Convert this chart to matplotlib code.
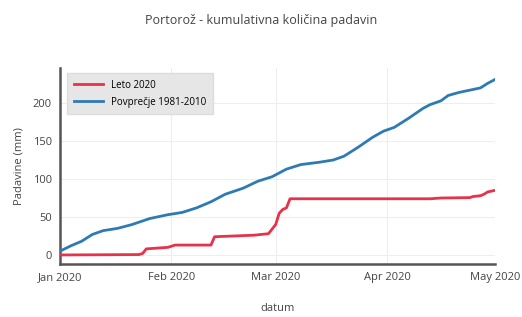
import numpy as np
import pandas as pd
import matplotlib
matplotlib.use('Agg')
import matplotlib.pyplot as plt
import matplotlib.dates as mdates

plt.rcParams['font.family'] = ['Open Sans', 'DejaVu Sans']

# leto 2020 - kumulativna kolicina (mm)
red_dates = ['2020-01-01', '2020-01-23', '2020-01-24', '2020-01-25', '2020-01-31',
             '2020-02-02', '2020-02-12', '2020-02-13', '2020-02-24', '2020-02-28',
             '2020-03-01', '2020-03-02', '2020-03-03', '2020-03-04', '2020-03-05',
             '2020-04-13', '2020-04-16', '2020-04-24', '2020-04-25', '2020-04-27',
             '2020-04-28', '2020-04-29', '2020-05-01']
red_vals = [0, 0.5, 2, 8, 10,
            13, 13, 24, 26, 28,
            40, 55, 60, 62, 74,
            74, 75, 75.5, 77, 78,
            80, 83, 85]

# povprecje 1981-2010
blue_days = [0, 3, 6, 9, 12, 16, 20, 25, 30, 34, 38, 42, 46, 51, 55, 59, 63, 67,
             72, 76, 79, 83, 87, 90, 93, 97, 101, 103, 106, 108, 111, 115, 117, 119, 121]
blue_vals = [5, 12, 18, 27, 32, 35, 40, 48, 53, 56, 62, 70, 80, 88, 97, 103, 113, 119,
             122, 125, 130, 142, 155, 163, 168, 180, 193, 198, 203, 210, 214, 218, 220, 226, 231]

red_x = pd.to_datetime(red_dates)
blue_x = pd.Timestamp('2020-01-01') + pd.to_timedelta(blue_days, unit='D')

fig = plt.figure(figsize=(5.22, 3.17), dpi=100)
ax = fig.add_axes([0.115, 0.167, 0.833, 0.618])

ax.plot(red_x, red_vals, color='#e8324b', lw=2, label='Leto 2020', zorder=3)
ax.plot(blue_x, blue_vals, color='#2e7bb4', lw=2, label='Povprečje 1981-2010', zorder=3)

ax.set_xlim(pd.Timestamp('2020-01-01'), pd.Timestamp('2020-05-01'))
ax.set_ylim(-12, 246)
ax.set_yticks([0, 50, 100, 150, 200])
ax.xaxis.set_major_locator(mdates.MonthLocator())
ax.xaxis.set_major_formatter(mdates.DateFormatter('%b %Y'))

ax.grid(True, color='#eeeeee', lw=0.8)
ax.set_axisbelow(True)
for s in ['top', 'right']:
    ax.spines[s].set_visible(False)
for s in ['left', 'bottom']:
    ax.spines[s].set_color('#555555')
    ax.spines[s].set_linewidth(1.8)
ax.tick_params(length=0, labelsize=8, colors='#444444', pad=6)

ax.set_xlabel('datum', fontsize=8, color='#444444', labelpad=14)
ax.set_ylabel('Padavine (mm)', fontsize=8, color='#444444', labelpad=6)
fig.suptitle('Portorož - kumulativna količina padavin', fontsize=9, color='#444444', y=0.955)

leg = ax.legend(loc='upper left', fontsize=7, frameon=True, fancybox=False,
                bbox_to_anchor=(0.005, 1.0), handlelength=3, borderpad=0.7,
                labelspacing=0.6)
leg.get_frame().set_facecolor('#e6e6e6')
leg.get_frame().set_edgecolor('#dddddd')
leg.get_frame().set_alpha(1)

fig.savefig('out.png', dpi=100)
